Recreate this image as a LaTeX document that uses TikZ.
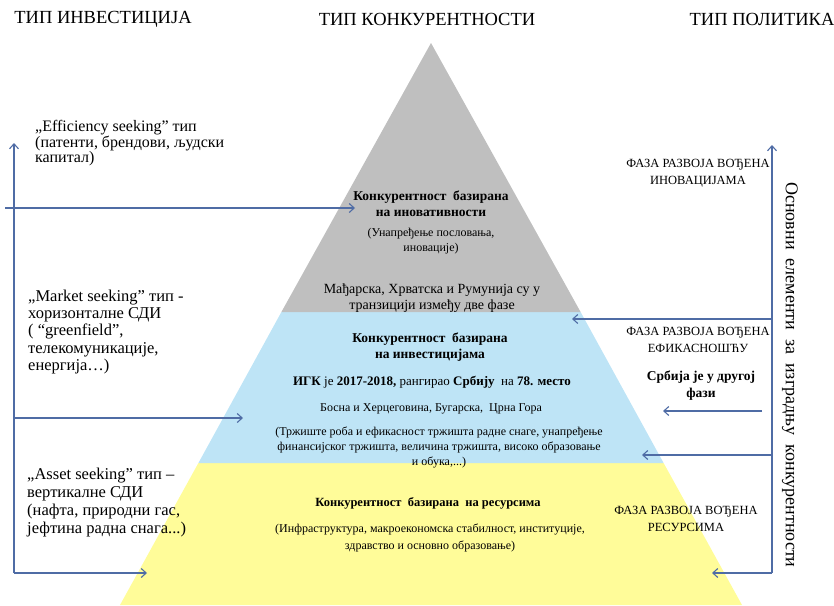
\documentclass[tikz,border=0pt]{standalone}
\usepackage{fontspec}
\setmainfont{Liberation Serif}
\usetikzlibrary{arrows.meta}
\definecolor{inovboja}{RGB}{191,191,191}
\definecolor{investboja}{RGB}{190,228,246}
\definecolor{resursboja}{RGB}{255,252,153}
\definecolor{strela}{RGB}{79,108,165}
\begin{document}
\begin{tikzpicture}[x=1pt, y=-1pt,
	strelica/.style = {draw=strela, line width=1.1pt, -{Straight Barb[length=5pt, width=9pt]}},
	naslov/.style = {inner sep=0, font=\fontsize{18.5}{20}\selectfont},
	opis/.style = {inner sep=0, anchor=west, align=left},
	sloj/.style = {inner sep=0, align=center},
	faza/.style = {inner sep=0, align=center, font=\fontsize{12.5}{17}\selectfont}]
	\useasboundingbox (0,0) rectangle (834,605);
	% piramida
	\fill[resursboja] (120,605) -- (198.4,463) -- (663.6,463) -- (742,605) -- cycle;
	\fill[investboja] (198.4,463) -- (281.4,312) -- (580.6,312) -- (663.6,463) -- cycle;
	\fill[inovboja] (281.4,312) -- (431,43) -- (580.6,312) -- cycle;
	% naslovi
	\node[naslov] (hInv) at (103,19) {ТИП ИНВЕСТИЦИЈА};
	\node[naslov] (hKon) at (427,19) {ТИП КОНКУРЕНТНОСТИ};
	\node[naslov] (hPol) at (762,19) {ТИП ПОЛИТИКА};
	% tip investicija
	\node[opis, font=\fontsize{16}{13}\selectfont] (efik) at (35,143) {„Efficiency seeking” тип\\(патенти, брендови, људски\\капитал)};
	\node[opis, font=\fontsize{16.5}{17.3}\selectfont] (trziste) at (28,332) {„Market seeking” тип -\\хоризонталне СДИ\\( “greenfield”,\\телекомуникације,\\енергија…)};
	\node[opis, font=\fontsize{16.5}{18}\selectfont] (resursi) at (27,503) {„Asset seeking” тип –\\вертикалне СДИ\\(нафта, природни гас,\\јефтина радна снага...)};
	% tip konkurentnosti
	\node[sloj, font=\bfseries\fontsize{13.5}{16}\selectfont] (inovT) at (431,204) {Конкурентност\ \ базирана\\на иновативности};
	\node[sloj, font=\fontsize{12}{15}\selectfont] (inovO) at (431,241) {(Унапређење пословања,\\иновације)};
	\node[sloj, font=\fontsize{14}{16}\selectfont] (tranz) at (432,298) {Мађарска, Хрватска и Румунија су у\\транзицији између две фазе};
	\node[sloj, font=\bfseries\fontsize{13.5}{16}\selectfont] (invT) at (430,347) {Конкурентност\ \ базирана\\на инвестицијама};
	\node[sloj, font=\fontsize{13}{15}\selectfont] (igk) at (432,382) {\textbf{ИГК} је \textbf{2017-2018,} рангирао \textbf{Србију}\ \ на \textbf{78. место}};
	\node[sloj, font=\fontsize{12}{15}\selectfont] (balkan) at (431,409) {Босна и Херцеговина, Бугарска,\ \ Црна Гора};
	\node[sloj, font=\fontsize{12}{15}\selectfont] (invO) at (439,447) {(Тржиште роба и ефикасност тржишта радне снаге, унапређење\\финансијског тржишта, величина тржишта, високо образовање\\и обука,...)};
	\node[sloj, font=\bfseries\fontsize{12.5}{16}\selectfont] (resT) at (428,503) {Конкурентност\ \ базирана\ \ на ресурсима};
	\node[sloj, font=\fontsize{12}{17}\selectfont] (resO) at (430,538) {(Инфраструктура, макроекономска стабилност, институције,\\здравство и основно образовање)};
	% tip politika
	\node[faza] (fInov) at (698,173) {ФАЗА РАЗВОЈА ВОЂЕНА\\ИНОВАЦИЈАМА};
	\node[faza] (fEf) at (698,340) {ФАЗА РАЗВОЈА ВОЂЕНА\\ЕФИКАСНОШЋУ};
	\node[sloj, font=\bfseries\fontsize{13.5}{17}\selectfont] (srbija) at (701,386) {Србија\ је у другој\\фази};
	\node[faza] (fRes) at (686,519) {ФАЗА РАЗВОЈА ВОЂЕНА\\РЕСУРСИМА};
	\node[inner sep=0, rotate=-90, font=\fontsize{18}{20}\selectfont] (osnovni) at (790,375) {Основни\ \ елементи\ \ за\ \ изградњу\ \ конкурентности};
	% leve strelice
	\coordinate (lKut) at (14,573);
	\coordinate (lVrh) at (14,143);
	\coordinate (lPoc) at (5,208);
	\coordinate (lSred) at (14,418);
	\draw[strelica] (lKut) -- (lVrh);
	\draw[strelica] (lPoc) -- (355,208);
	\draw[strelica] (lSred) -- (243,418);
	\draw[strelica] (lKut) -- (147,573);
	% desne strelice
	\coordinate (dKut) at (772,573);
	\coordinate (dVrh) at (772,145);
	\draw[strelica] (dKut) -- (dVrh);
	\draw[strelica] (772,319) -- (572,319);
	\draw[strelica] (772,455) -- (642,455);
	\draw[strelica] (dKut) -- (712,573);
	\draw[strelica] (762,411) -- (663,411);
\end{tikzpicture}
\end{document}
